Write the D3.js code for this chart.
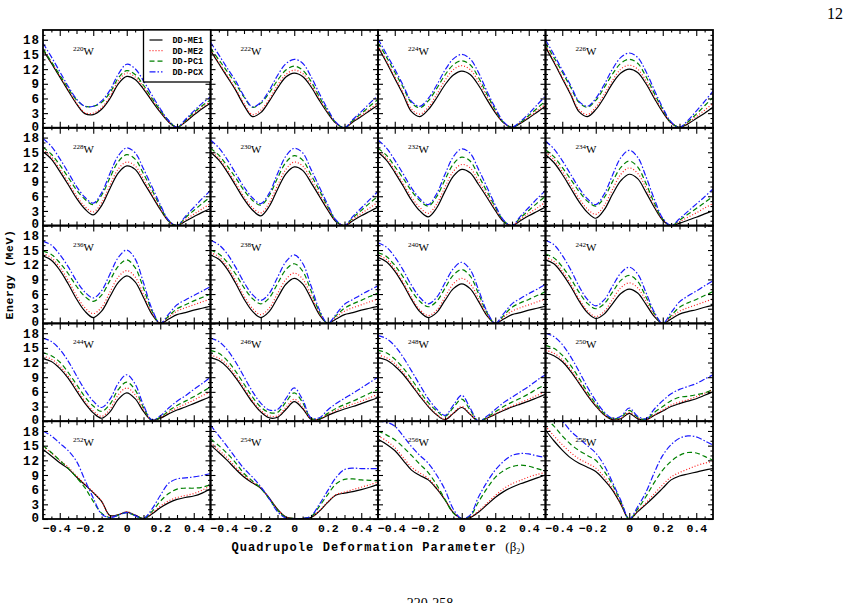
<!DOCTYPE html>
<html>
<head>
<meta charset="utf-8">
<script src="https://cdn.jsdelivr.net/npm/d3@7"></script>
<style>
  body { margin: 0; background: #fff; }
  svg text { font-family: "Liberation Mono", "DejaVu Sans Mono", monospace; font-weight: bold; }
  .serif { font-family: "Liberation Serif", "DejaVu Serif", serif !important; font-weight: normal !important; }
</style>
</head>
<body>
<div id="chart"></div>
<script>
// deformation grid (beta_2)
const betas = [-0.5,-0.45,-0.4,-0.35,-0.3,-0.25,-0.2,-0.15,-0.1,-0.05,0,0.05,0.1,0.15,0.2,0.25,0.3,0.35,0.4,0.45,0.5];
const nuclei = [220,222,224,226,228,230,232,234,236,238,240,242,244,246,248,250,252,254,256,258];
const yTicks = [0,3,6,9,12,15,18];
const xTicks = [-0.4,-0.2,0,0.2,0.4];

// energies (MeV), one row per nucleus
const ddME1 = [
  [15.9,13.2,10.4,7.6,4.9,2.9,2.7,3.8,6.0,9.0,10.5,9.9,7.9,5.5,3.2,1.2,0.1,1.2,2.6,3.9,5.0],
  [15.8,13.1,10.4,7.7,4.6,2.3,3.1,5.4,8.1,10.4,11.2,10.5,8.4,5.6,3.0,0.9,0,1.2,2.3,3.5,4.6],
  [16.5,13.4,10.1,6.8,3.3,2.3,3.7,6.1,8.8,10.8,11.6,10.9,8.7,5.8,3.1,1.0,0.1,0.9,2.0,3.2,4.4],
  [16.5,13.4,10.1,6.8,3.3,2.3,3.7,6.2,9.1,11.2,12.0,11.3,9.0,6.0,3.2,1.0,0.1,0.8,1.9,3.0,4.2],
  [15.1,13.6,11.1,8.4,5.6,3.4,2.2,4.1,7.6,10.8,12.2,11.5,8.9,6.1,3.3,0.9,0,0.9,1.8,2.7,3.5],
  [15.0,13.4,11.0,8.2,5.4,3.2,2.0,3.9,7.4,10.6,12.0,11.3,8.8,6.0,3.2,0.8,0,1.0,2.0,2.9,3.8],
  [15.0,13.4,10.9,8.1,5.2,3.0,1.8,3.6,7.0,10.1,11.5,10.8,8.4,5.8,3.1,0.8,0,1.0,2.0,2.9,3.8],
  [14.5,12.9,10.5,7.7,4.9,2.7,1.5,3.2,6.4,9.2,10.5,9.6,6.8,3.7,1.1,0,0.5,1.1,1.7,2.4,3.0],
  [13.8,12.9,10.9,8.1,5.0,2.5,1.2,2.5,5.5,8.4,9.7,8.5,5.3,1.9,0,0.9,1.8,2.2,2.7,3.1,3.5],
  [14.0,13.1,11.1,8.2,5.0,2.5,1.2,2.4,5.2,8.0,9.2,8.1,5.1,1.8,0,0.9,1.8,2.2,2.7,3.1,3.5],
  [13.5,12.6,10.7,8.0,4.9,2.4,1.2,2.2,4.7,7.1,8.1,7.1,4.5,1.6,0,0.9,1.8,2.2,2.7,3.1,3.5],
  [13.0,12.2,10.2,7.6,4.6,2.2,1.0,1.9,4.0,6.1,7.0,6.2,3.9,1.4,0,0.9,1.9,2.4,2.8,3.3,3.7],
  [12.8,12.2,10.8,8.8,6.2,3.7,1.7,0.6,1.9,4.5,5.8,4.6,2.0,0.2,0.6,1.5,2.3,2.9,3.6,4.3,5.0],
  [13.0,12.4,11.0,8.9,6.4,3.9,1.9,0.7,0.8,2.4,4.0,2.6,0.4,0.4,1.2,1.9,2.5,3.0,3.6,4.2,4.8],
  [13.0,12.5,11.3,9.6,7.4,5.1,3.0,1.3,0.3,1.6,2.8,1.4,0,0.6,1.4,2.2,2.9,3.5,4.1,4.8,5.5],
  [14.0,13.4,12.2,10.2,7.8,5.3,3.1,1.3,0.3,0.5,1.6,0.5,0.3,1.2,2.1,3.0,3.6,4.1,4.6,5.3,6.0],
  [14.2,12.9,11.5,10.3,8.6,7.0,5.4,3.6,0.7,0.9,1.4,0.8,0.1,1.0,2.3,3.3,4.0,4.4,4.7,5.3,6.2],
  [15.1,13.6,12.0,10.2,8.6,7.4,6.3,4.3,2.0,0.4,0.1,0.1,0.3,1.6,3.4,4.9,5.3,5.6,6.0,6.5,7.1],
  [16.3,15.3,14.0,12.0,10.0,8.9,8.0,6.2,3.9,1.3,0.1,0.3,1.4,2.9,4.4,5.6,6.5,7.2,7.8,8.4,9.0],
  [18.2,16.0,14.1,12.5,11.4,10.6,9.7,8.0,5.9,3.0,0.0,1.5,3.0,4.6,6.3,8.0,8.8,9.2,9.6,10.0,10.3]
];
const ddME2 = [
  [16.0,13.4,10.6,7.8,5.1,3.1,3.0,4.1,6.4,9.6,11.2,10.4,8.3,5.8,3.4,1.3,0.1,1.3,2.8,4.2,5.3],
  [16.0,13.3,10.7,8.0,5.0,2.7,3.6,5.8,8.7,10.9,11.8,11.1,8.9,5.9,3.2,0.9,0,1.3,2.5,3.8,5.0],
  [16.8,13.7,10.5,7.2,3.8,2.8,4.2,6.8,9.7,11.9,12.7,11.9,9.5,6.4,3.4,1.0,0.1,1.0,2.2,3.5,4.8],
  [16.8,13.7,10.4,7.1,3.7,2.7,4.2,6.8,9.7,12.0,12.8,12.0,9.6,6.4,3.5,1.0,0.1,1.0,2.3,3.6,5.0],
  [15.5,14.0,11.6,8.9,6.1,3.9,2.8,4.7,8.3,11.6,13.0,12.2,9.5,6.5,3.5,0.9,0,1.2,2.3,3.4,4.5],
  [15.3,13.8,11.4,8.7,5.9,3.7,2.6,4.6,8.2,11.5,13.0,12.2,9.5,6.5,3.5,0.9,0,1.3,2.5,3.6,4.8],
  [15.3,13.8,11.3,8.6,5.8,3.7,2.5,4.4,7.9,11.1,12.5,11.8,9.1,6.3,3.4,0.9,0,1.3,2.5,3.6,4.8],
  [15.0,13.5,11.1,8.4,5.6,3.4,2.3,4.1,7.4,10.5,11.8,10.7,7.7,4.1,1.2,0,0.8,1.7,2.6,3.6,4.5],
  [14.3,13.4,11.5,8.8,5.7,3.2,2.0,3.3,6.4,9.5,10.8,9.5,5.9,2.2,0,1.3,2.5,3.2,3.8,4.4,5.0],
  [14.5,13.6,11.6,8.8,5.6,3.1,1.8,3.1,6.1,9.0,10.3,9.1,5.7,2.1,0,1.3,2.5,3.2,3.8,4.4,5.0],
  [14.0,13.1,11.1,8.4,5.3,2.8,1.6,2.7,5.4,8.1,9.2,8.1,5.1,1.8,0,1.3,2.5,3.2,3.8,4.4,5.0],
  [13.5,12.7,10.7,8.1,5.0,2.6,1.4,2.4,4.9,7.3,8.3,7.3,4.6,1.7,0,1.3,2.5,3.2,3.8,4.4,5.0],
  [13.3,12.7,11.3,9.2,6.7,4.1,2.1,1.0,2.5,5.4,6.8,5.4,2.4,0.2,0.7,1.8,2.7,3.5,4.3,5.2,6.0],
  [13.5,12.9,11.5,9.3,6.8,4.2,2.2,1.1,1.1,2.8,4.5,2.9,0.5,0.4,1.4,2.2,2.9,3.5,4.1,4.8,5.5],
  [13.5,13.0,11.8,10.0,7.7,5.4,3.2,1.4,0.4,1.7,3.0,1.5,0,0.6,1.5,2.4,3.1,3.8,4.5,5.3,6.0],
  [14.5,13.9,12.6,10.6,8.1,5.5,3.2,1.3,0.3,0.6,1.8,0.6,0.3,1.3,2.3,3.3,3.9,4.4,5.0,5.7,6.5],
  [14.8,13.5,12.0,10.6,8.8,7.1,5.5,3.6,0.6,0.9,1.5,0.8,0.1,1.2,2.6,3.7,4.4,4.8,5.2,5.9,6.8],
  [15.6,14.1,12.5,10.6,8.9,7.6,6.4,4.3,2.0,0.4,0.1,0.1,0.3,1.7,3.5,5.0,5.5,6.0,6.5,7.0,7.6],
  [17.0,16.0,14.6,12.6,10.6,9.4,8.3,6.4,4.0,1.3,0.1,0.4,1.6,3.2,4.8,6.2,7.2,7.9,8.6,9.1,9.5],
  [19.0,17.0,15.2,13.6,12.3,11.4,10.4,8.6,6.2,3.1,0.0,1.6,3.3,5.2,7.0,8.6,9.5,10.2,10.9,11.4,11.8]
];
const ddPC1 = [
  [16.1,13.5,10.8,8.1,5.7,4.4,4.4,5.2,7.2,10.2,11.7,10.9,8.7,6.1,3.6,1.5,0.1,1.5,3.1,4.5,5.7],
  [16.3,13.9,11.5,9.0,6.3,4.2,5.0,7.1,9.7,11.8,12.6,11.8,9.5,6.3,3.4,1.0,0,1.5,2.9,4.4,5.8],
  [17.4,14.5,11.4,8.3,5.1,4.1,5.5,8.0,10.8,12.9,13.7,12.9,10.3,6.9,3.7,1.1,0.1,1.1,2.5,4.0,5.5],
  [17.3,14.4,11.4,8.3,5.2,4.2,5.6,8.2,11.0,13.2,14.0,13.2,10.5,7.0,3.8,1.1,0.1,1.2,2.8,4.5,6.2],
  [16.0,14.6,12.4,9.9,7.3,5.4,4.3,6.2,9.8,13.1,14.5,13.6,10.6,7.3,3.9,1.0,0,1.6,3.1,4.5,5.9],
  [15.8,14.4,12.2,9.8,7.2,5.2,4.2,6.1,9.7,12.9,14.3,13.4,10.4,7.2,3.9,1.0,0,1.6,3.1,4.6,6.0],
  [15.8,14.4,12.1,9.7,7.1,5.1,4.0,5.9,9.4,12.6,14.0,13.2,10.2,7.0,3.8,1.0,0,1.6,3.1,4.6,6.0],
  [15.5,14.1,11.9,9.5,7.0,5.0,4.0,5.7,9.0,11.9,13.2,12.0,8.6,4.6,1.3,0,1.1,2.3,3.5,4.7,6.0],
  [14.8,14.1,12.4,10.2,7.6,5.5,4.5,5.8,8.8,11.7,13.0,11.4,7.2,2.6,0,1.5,3.0,3.8,4.6,5.3,6.0],
  [15.0,14.2,12.5,10.1,7.3,5.1,4.0,5.2,8.1,11.0,12.2,10.7,6.7,2.4,0,1.6,3.1,4.0,4.7,5.5,6.2],
  [14.5,13.7,11.9,9.5,6.7,4.5,3.4,4.5,7.2,9.9,11.0,9.7,6.1,2.2,0,1.6,3.3,4.2,4.9,5.7,6.5],
  [14.2,13.4,11.6,9.2,6.4,4.1,3.0,4.0,6.4,8.8,9.8,8.6,5.4,2.0,0,1.6,3.3,4.2,4.9,5.7,6.5],
  [14.0,13.4,12.1,10.0,7.5,5.0,3.1,2.0,3.5,6.5,8.0,6.4,2.8,0.2,0.8,2.1,3.2,4.1,5.0,6.0,7.0],
  [14.5,13.9,12.4,10.2,7.6,5.0,2.9,1.8,1.8,3.9,5.8,3.8,0.6,0.5,1.6,2.6,3.4,4.1,4.9,5.7,6.5],
  [14.5,14.0,12.7,10.9,8.6,6.1,3.8,2.1,1.0,2.8,4.5,2.3,0,0.8,1.9,3.0,3.9,4.7,5.6,6.6,7.5],
  [15.5,14.9,13.5,11.4,8.8,6.0,3.6,1.6,0.5,0.8,2.2,0.8,0.4,1.8,3.0,4.2,4.9,5.1,5.4,5.8,6.5],
  [15.0,13.6,12.0,10.4,8.5,6.4,3.6,1.2,0.3,0.8,1.3,0.7,0.1,1.5,3.6,5.2,6.1,6.3,6.3,6.5,7.0],
  [16.4,15.0,13.4,11.5,9.3,7.8,6.3,4.1,1.8,0.3,0.1,0.1,0.5,2.6,5.0,7.2,8.1,8.2,8.0,7.9,7.8],
  [18.0,17.2,16.2,14.7,13.0,11.2,9.5,7.0,4.0,1.2,0.1,0.6,3.5,6.2,8.5,9.9,10.7,11.0,10.8,10.3,9.8],
  [20.5,19.0,17.0,15.3,14.0,13.0,12.0,9.8,7.0,3.5,0.0,2.0,4.6,7.5,10.0,11.8,13.0,13.6,13.5,12.8,12.0]
];
const ddPCX = [
  [17.3,14.5,11.5,8.5,5.9,4.4,4.4,5.5,7.7,11.0,13.0,12.1,9.6,6.7,3.9,1.5,0.1,1.7,3.4,5.0,6.3],
  [17.5,14.9,12.2,9.6,6.5,4.3,5.2,7.6,10.7,13.1,14.0,13.2,10.5,7.0,3.8,1.1,0,1.7,3.3,5.0,6.6],
  [18.2,15.1,12.0,8.7,5.4,4.4,6.0,8.7,11.8,14.1,15.0,14.1,11.3,7.5,4.1,1.2,0.1,1.3,2.9,4.7,6.5],
  [18.0,15.0,11.8,8.7,5.4,4.4,6.0,8.8,12.0,14.4,15.3,14.4,11.5,7.7,4.1,1.2,0.1,1.5,3.4,5.4,7.5],
  [17.8,16.2,13.7,10.9,8.0,5.8,4.6,6.7,10.7,14.3,15.9,14.9,11.6,8.0,4.3,1.1,0,1.9,3.7,5.5,7.2],
  [17.5,15.9,13.5,10.7,7.9,5.7,4.5,6.6,10.6,14.2,15.8,14.9,11.5,7.9,4.3,1.1,0,1.9,3.6,5.3,7.0],
  [17.5,15.9,13.4,10.6,7.7,5.5,4.3,6.5,10.5,14.1,15.7,14.8,11.5,7.9,4.2,1.1,0,1.9,3.7,5.5,7.2],
  [17.3,15.7,13.3,10.5,7.7,5.5,4.3,6.4,10.3,13.9,15.4,14.0,10.0,5.4,1.5,0,1.4,2.9,4.4,5.9,7.5],
  [16.8,16.0,14.1,11.6,8.7,6.4,5.2,6.7,10.1,13.5,15.0,13.2,8.3,3.0,0,1.9,3.8,4.8,5.7,6.6,7.5],
  [17.0,16.1,14.2,11.5,8.4,5.9,4.7,6.1,9.4,12.6,14.0,12.3,7.7,2.8,0,1.9,3.9,4.9,5.9,6.8,7.7],
  [16.5,15.6,13.6,10.9,7.8,5.3,4.0,5.3,8.3,11.2,12.5,11.0,6.9,2.5,0,2.0,4.0,5.1,6.1,7.0,8.0],
  [17.0,16.1,13.9,11.0,7.6,4.9,3.6,4.8,7.6,10.3,11.5,10.1,6.3,2.3,0,2.2,4.4,5.6,6.6,7.7,8.7],
  [17.0,16.3,14.7,12.3,9.3,6.4,4.1,2.8,4.5,7.8,9.5,7.6,3.3,0.3,1.1,2.7,4.1,5.2,6.5,7.7,9.0],
  [17.0,16.3,14.6,12.1,9.1,6.1,3.7,2.3,2.4,4.6,6.8,4.4,0.7,0.7,2.3,3.6,4.7,5.7,6.8,7.9,9.0],
  [17.5,16.9,15.4,13.1,10.3,7.4,4.6,2.5,1.2,3.3,5.3,2.7,0,1.0,2.4,3.8,4.9,6.0,7.1,8.4,9.5],
  [18.0,17.3,15.7,13.2,10.2,7.0,4.2,1.9,0.6,1.0,2.7,1.0,0.5,2.5,4.2,5.6,6.5,7.1,7.7,8.6,9.5],
  [18.0,17.0,15.5,14.0,11.8,8.0,4.3,1.0,0.3,0.8,1.3,0.7,0.1,2.0,4.8,7.3,8.2,8.4,8.6,8.9,9.3],
  [19.2,17.0,14.8,12.5,10.3,8.6,6.6,4.2,1.5,0.2,0.1,0.1,0.6,3.0,5.8,8.5,10.1,10.4,10.3,10.3,10.3],
  [20.0,19.8,19.0,17.0,14.8,13.0,11.4,9.0,6.0,2.0,0.1,0.8,4.5,7.5,10.0,11.8,13.0,13.4,13.3,12.9,12.6],
  [21.5,21.0,20.0,18.0,16.5,15.0,13.5,11.0,7.5,3.8,0.0,2.5,5.5,9.5,13.0,15.2,16.5,17.0,16.8,16.0,15.1]
];

const width = 851, height = 603;
const margin = {top: 30, left: 43};
const pw = 167.5, ph = 97.8;
const nCols = 4, nRows = 5;

const series = [
  {name: "DD-ME1", data: ddME1, color: "#000000", dash: null},
  {name: "DD-ME2", data: ddME2, color: "#ff2020", dash: "1,2"},
  {name: "DD-PC1", data: ddPC1, color: "#008000", dash: "5,3"},
  {name: "DD-PCX", data: ddPCX, color: "#1a1aff", dash: "6,2,1.5,2"}
];

const svg = d3.select("#chart").append("svg")
    .attr("width", width)
    .attr("height", height)
    .attr("viewBox", [0, 0, width, height]);

const x = d3.scaleLinear().domain([-0.5, 0.5]).range([0, pw]);
const y = d3.scaleLinear().domain([0, 20]).range([ph, 0]);

const line = d3.line()
    .curve(d3.curveCatmullRom.alpha(0.5))
    .x((d, i) => x(betas[i]))
    .y(d => y(d));

const xMinor = d3.range(-0.45, 0.5, 0.05).filter(v => Math.abs(Math.round(v * 10) - v * 10) > 1e-6);
const xMid = [-0.3, -0.1, 0.1, 0.3];
const yMinor = d3.range(1, 20, 1).filter(v => v % 3 !== 0);
const fmtX = d => d === 0 ? "0" : d3.format(".1f")(d);

nuclei.forEach((n, i) => {
  const col = i % nCols, row = Math.floor(i / nCols);
  const g = svg.append("g")
      .attr("transform", `translate(${margin.left + col * pw},${margin.top + row * ph})`);

  g.append("clipPath").attr("id", "clip" + i)
    .append("rect").attr("width", pw).attr("height", ph);

  const plot = g.append("g").attr("clip-path", `url(#clip${i})`);
  series.forEach(s => {
    plot.append("path")
        .attr("fill", "none")
        .attr("stroke", s.color)
        .attr("stroke-width", 1.2)
        .attr("stroke-dasharray", s.dash)
        .attr("d", line(s.data[i]));
  });

  // ticks, inward on all four sides
  const tickSet = (axis, vals, len, labels) => axis.tickValues(vals).tickSize(-len).tickSizeOuter(0)
      .tickFormat(labels ? labels : "");
  const addAxis = (axis, tr) => g.append("g").attr("transform", tr).call(axis)
      .call(a => a.select(".domain").remove())
      .call(a => a.selectAll(".tick line").attr("stroke", "#000").attr("stroke-width", 1.1));

  addAxis(tickSet(d3.axisBottom(x), xTicks, 6, row === nRows - 1 ? fmtX : null), `translate(0,${ph})`)
    .call(a => a.selectAll("text").attr("font-size", 11.5).attr("dy", "0.9em").attr("fill", "#000")
      .attr("dx", d => d < 0 ? -3.5 : 0));
  addAxis(tickSet(d3.axisBottom(x), xMid, 4, null), `translate(0,${ph})`);
  addAxis(tickSet(d3.axisBottom(x), xMinor, 2.5, null), `translate(0,${ph})`);
  addAxis(tickSet(d3.axisTop(x), xTicks, 6, null), "translate(0,0)");
  addAxis(tickSet(d3.axisTop(x), xMid, 4, null), "translate(0,0)");
  addAxis(tickSet(d3.axisTop(x), xMinor, 2.5, null), "translate(0,0)");

  addAxis(tickSet(d3.axisLeft(y), yTicks, 5, col === 0 ? (d => d) : null), "translate(0,0)")
    .call(a => a.selectAll("text").attr("font-size", 12.5).attr("letter-spacing", 1)
      .attr("x", -3).attr("dy", d => d === 0 ? "0.18em" : "0.33em").attr("fill", "#000"));
  addAxis(tickSet(d3.axisLeft(y), yMinor, 2.5, null), "translate(0,0)");
  addAxis(tickSet(d3.axisRight(y), yTicks, 5, null), `translate(${pw},0)`);
  addAxis(tickSet(d3.axisRight(y), yMinor, 2.5, null), `translate(${pw},0)`);

  g.append("rect")
      .attr("width", pw).attr("height", ph)
      .attr("fill", "none").attr("stroke", "#000").attr("stroke-width", 1.8);

  // nucleus label
  const lab = g.append("text").attr("class", "serif")
      .attr("x", 30).attr("y", 25).attr("fill", "#000");
  lab.append("tspan").attr("font-size", 7).attr("dy", -4).text(n);
  lab.append("tspan").attr("font-size", 11).attr("dy", 4).text("W");
});

// legend in first panel
const leg = svg.append("g").attr("transform", `translate(${margin.left + pw - 67},${margin.top})`);
leg.append("rect").attr("width", 67).attr("height", 52)
    .attr("fill", "#fff").attr("stroke", "#000").attr("stroke-width", 1.3);
series.forEach((s, k) => {
  const yy = 10 + k * 10.6;
  leg.append("line").attr("x1", 6).attr("x2", 19).attr("y1", yy).attr("y2", yy)
      .attr("stroke", s.color).attr("stroke-width", 1.2).attr("stroke-dasharray", s.dash);
  leg.append("text").attr("x", 29).attr("y", yy + 3).attr("font-size", 8.5)
      .attr("fill", "#000").text(s.name);
});

// axis titles
const xt = svg.append("text")
    .attr("x", margin.left + 2 * pw).attr("y", 551)
    .attr("text-anchor", "middle").attr("font-size", 12).attr("letter-spacing", 1.1).attr("fill", "#000");
xt.append("tspan").text("Quadrupole Deformation Parameter ");
xt.append("tspan").attr("class", "serif").attr("font-size", 13).attr("letter-spacing", 0).text("(β");
xt.append("tspan").attr("class", "serif").attr("font-size", 8).attr("letter-spacing", 0).attr("dy", 3).text("2");
xt.append("tspan").attr("class", "serif").attr("font-size", 13).attr("letter-spacing", 0).attr("dy", -3).text(")");

svg.append("text")
    .attr("transform", `translate(13,${margin.top + 2.5 * ph}) rotate(-90)`)
    .attr("text-anchor", "middle").attr("font-size", 11.5).attr("letter-spacing", 0.6).attr("fill", "#000")
    .text("Energy (MeV)");

// page furniture
svg.append("text").attr("class", "serif")
    .attr("x", 843).attr("y", 19).attr("text-anchor", "end").attr("font-size", 16)
    .attr("fill", "#000").text("12");
svg.append("text").attr("class", "serif")
    .attr("x", 430).attr("y", 608).attr("text-anchor", "middle").attr("font-size", 14)
    .attr("fill", "#000").text("220-258");
</script>
</body>
</html>
